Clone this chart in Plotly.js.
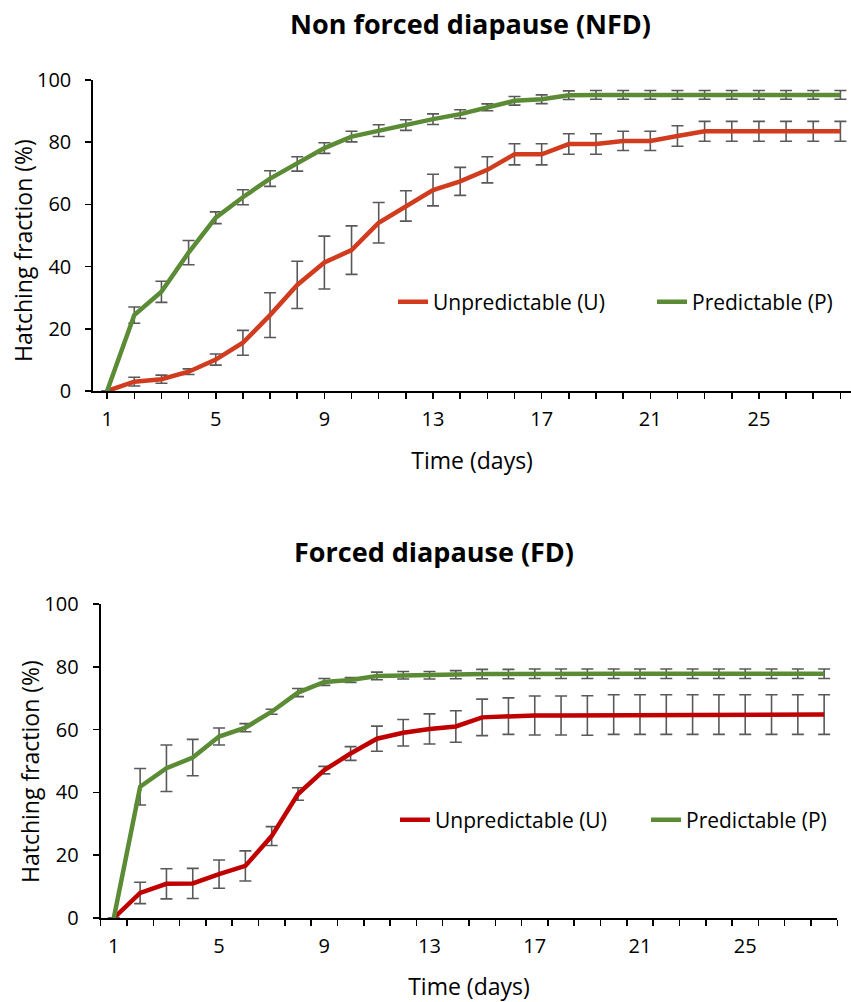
<!DOCTYPE html>
<html>
<head>
<meta charset="utf-8">
<script src="https://cdn.plot.ly/plotly-3.0.1.min.js"></script>
<style>html,body{margin:0;padding:0;background:#fff;} #chart{width:851px;height:1002px;}</style>
</head>
<body>
<div id="chart"></div>
<script>
// ---- data ----
const days = [1,2,3,4,5,6,7,8,9,10,11,12,13,14,15,16,17,18,19,20,21,22,23,24,25,26,27,28];
const xTickVals = [1,5,9,13,17,21,25];
const xTickText = ['1','5','9','13','17','21','25'];
const yTickVals = [0,20,40,60,80,100];

const seriesNames = ['Unpredictable (U)', 'Predictable (P)'];
const panelTitles = ['Non forced diapause (NFD)', 'Forced diapause (FD)'];
const xTitle = 'Time (days)';
const yTitle = 'Hatching fraction (%)';

// Non forced diapause
const nfdU    = [0,3.0,3.8,6.2,10.1,15.5,24.4,34.1,41.3,45.3,54.1,59.5,64.6,67.4,71.1,76.1,76.1,79.4,79.4,80.4,80.4,82.0,83.5,83.5,83.5,83.5,83.5,83.5];
const nfdUerr = [0,1.4,1.3,0.9,1.8,4.0,7.2,7.6,8.5,7.8,6.5,4.9,5.1,4.5,4.2,3.4,3.4,3.3,3.3,3.1,3.1,3.3,3.2,3.2,3.2,3.2,3.2,3.2];
const nfdP    = [0,24.4,31.9,44.5,55.7,62.3,68.3,73.0,78.1,81.8,83.7,85.5,87.4,89.0,91.2,93.3,93.8,95.1,95.2,95.2,95.2,95.2,95.2,95.2,95.2,95.2,95.2,95.2];
const nfdPerr = [0,2.6,3.4,3.9,1.9,2.4,2.5,2.3,1.7,1.7,1.9,1.7,1.7,1.4,1.1,1.4,1.4,1.4,1.4,1.4,1.4,1.4,1.4,1.4,1.4,1.4,1.4,1.4];

// Forced diapause
const fdU    = [0,8.0,10.9,11.0,14.0,16.6,26.1,39.5,47.1,52.4,57.1,59.0,60.2,61.0,63.9,64.3,64.5,64.5,64.5,64.8,64.8,64.8,64.8,64.8,64.8,64.8,64.8,64.8];
const fdUerr = [0,3.4,4.8,4.8,4.5,4.8,3.0,2.0,1.2,2.2,4.0,4.2,4.8,5.0,5.8,5.8,6.2,6.2,6.3,6.3,6.3,6.3,6.3,6.3,6.3,6.3,6.3,6.3];
const fdP    = [0,41.8,47.7,51.1,57.8,60.6,65.7,71.8,75.2,75.8,77.1,77.3,77.3,77.5,77.7,77.7,77.8,77.8,77.8,77.8,77.8,77.8,77.8,77.8,77.8,77.8,77.8,77.8];
const fdPerr = [0,5.8,7.4,5.8,2.7,1.3,0.8,1.3,1.1,0.8,1.2,1.2,1.2,1.3,1.5,1.5,1.5,1.5,1.5,1.5,1.5,1.5,1.5,1.5,1.5,1.5,1.5,1.5];

// ---- styles ----
const FONT = '"Open Sans", Lato, sans-serif';
const colU1 = '#D13B1E', colU2 = '#C00000', colP = '#5B8C35';
const errStyle = {type:'data', visible:true, color:'#595959', thickness:1.6, width:6};

function tr(y, err, name, color, xa, ya, leg) {
  return {
    x: days, y: y, name: name, type:'scatter', mode:'lines',
    line:{color:color, width:4.5},
    error_y: Object.assign({array: err}, errStyle),
    xaxis: xa, yaxis: ya, legend: leg, hoverinfo:'skip'
  };
}

const data = [
  tr(nfdU, nfdUerr, seriesNames[0], colU1, 'x', 'y', 'legend'),
  tr(nfdP, nfdPerr, seriesNames[1], colP, 'x', 'y', 'legend2'),
  tr(fdU, fdUerr, seriesNames[0], colU2, 'x2', 'y2', 'legend3'),
  tr(fdP, fdPerr, seriesNames[1], colP, 'x2', 'y2', 'legend4')
];

const tickFont = {family: FONT, size: 20, color:'#000'};
const titleFont = {family: FONT, size: 23, color:'#000'};
const axBase = {
  showline:true, linecolor:'#000', linewidth:2, showgrid:false, zeroline:false,
  ticks:'outside', ticklen:6, tickwidth:1.5, tickcolor:'#000', tickfont: tickFont,
  fixedrange:true
};

function leg(xpx, ypx) {
  return {orientation:'h', x:xpx/851, y:1-ypx/1002, xanchor:'left', yanchor:'middle',
    font:{family:FONT, size:21, color:'#000'}, bgcolor:'rgba(0,0,0,0)', borderwidth:0};
}

function paperText(text, xpx, ypx, size, angle) {
  return {text:text, xref:'paper', yref:'paper', x:xpx/851, y:1-ypx/1002,
    xanchor:'center', yanchor:'middle', showarrow:false, textangle:angle||0,
    font:{family:FONT, size:size, color:'#000'}};
}

const layout = {
  width:851, height:1002, margin:{l:0,r:0,t:0,b:0},
  paper_bgcolor:'#fff', plot_bgcolor:'rgba(0,0,0,0)',
  font:{family:FONT, color:'#000'},
  showlegend:true,
  xaxis: Object.assign({}, axBase, {
    domain:[0.1096, 1], range:[0.49, 28.39], anchor:'y',
    tickmode:'array', tickvals:xTickVals, ticktext:xTickText,
    minor:{tick0:1, dtick:1, ticks:'outside', ticklen:6, tickwidth:1.5, tickcolor:'#000'},
    ticklabelstandoff: 3,
    title:{text:xTitle, font:titleFont, standoff:22}
  }),
  yaxis: Object.assign({}, axBase, {
    domain:[0.6098, 0.9202], range:[0,100], anchor:'x',
    tickmode:'array', tickvals:yTickVals, ticklabelstandoff: 10
  }),
  xaxis2: Object.assign({}, axBase, {
    domain:[0.1183, 0.9839], range:[0.5, 28.5], anchor:'y2',
    tickmode:'array', tickvals:xTickVals, ticktext:xTickText, ticklen:0,
    minor:{tick0:0.5, dtick:1, ticks:'outside', ticklen:6, tickwidth:1.5, tickcolor:'#000'},
    ticklabelstandoff: 9,
    title:{text:xTitle, font:titleFont, standoff:22}
  }),
  yaxis2: Object.assign({}, axBase, {
    domain:[0.0838, 0.3972], range:[0,100], anchor:'x2',
    tickmode:'array', tickvals:yTickVals, ticklabelstandoff: 10
  }),
  legend: leg(393, 302),
  legend2: leg(652, 302),
  legend3: leg(395, 820),
  legend4: leg(646, 820),
  annotations: [
    paperText('<b>'+panelTitles[0]+'</b>', 470, 24, 27),
    paperText('<b>'+panelTitles[1]+'</b>', 434, 551, 27),
    paperText(yTitle, 23, 251, 23, -90),
    paperText(yTitle, 30, 772, 23, -90)
  ]
};

Plotly.newPlot('chart', data, layout, {displayModeBar:false, staticPlot:true});
</script>
</body>
</html>
